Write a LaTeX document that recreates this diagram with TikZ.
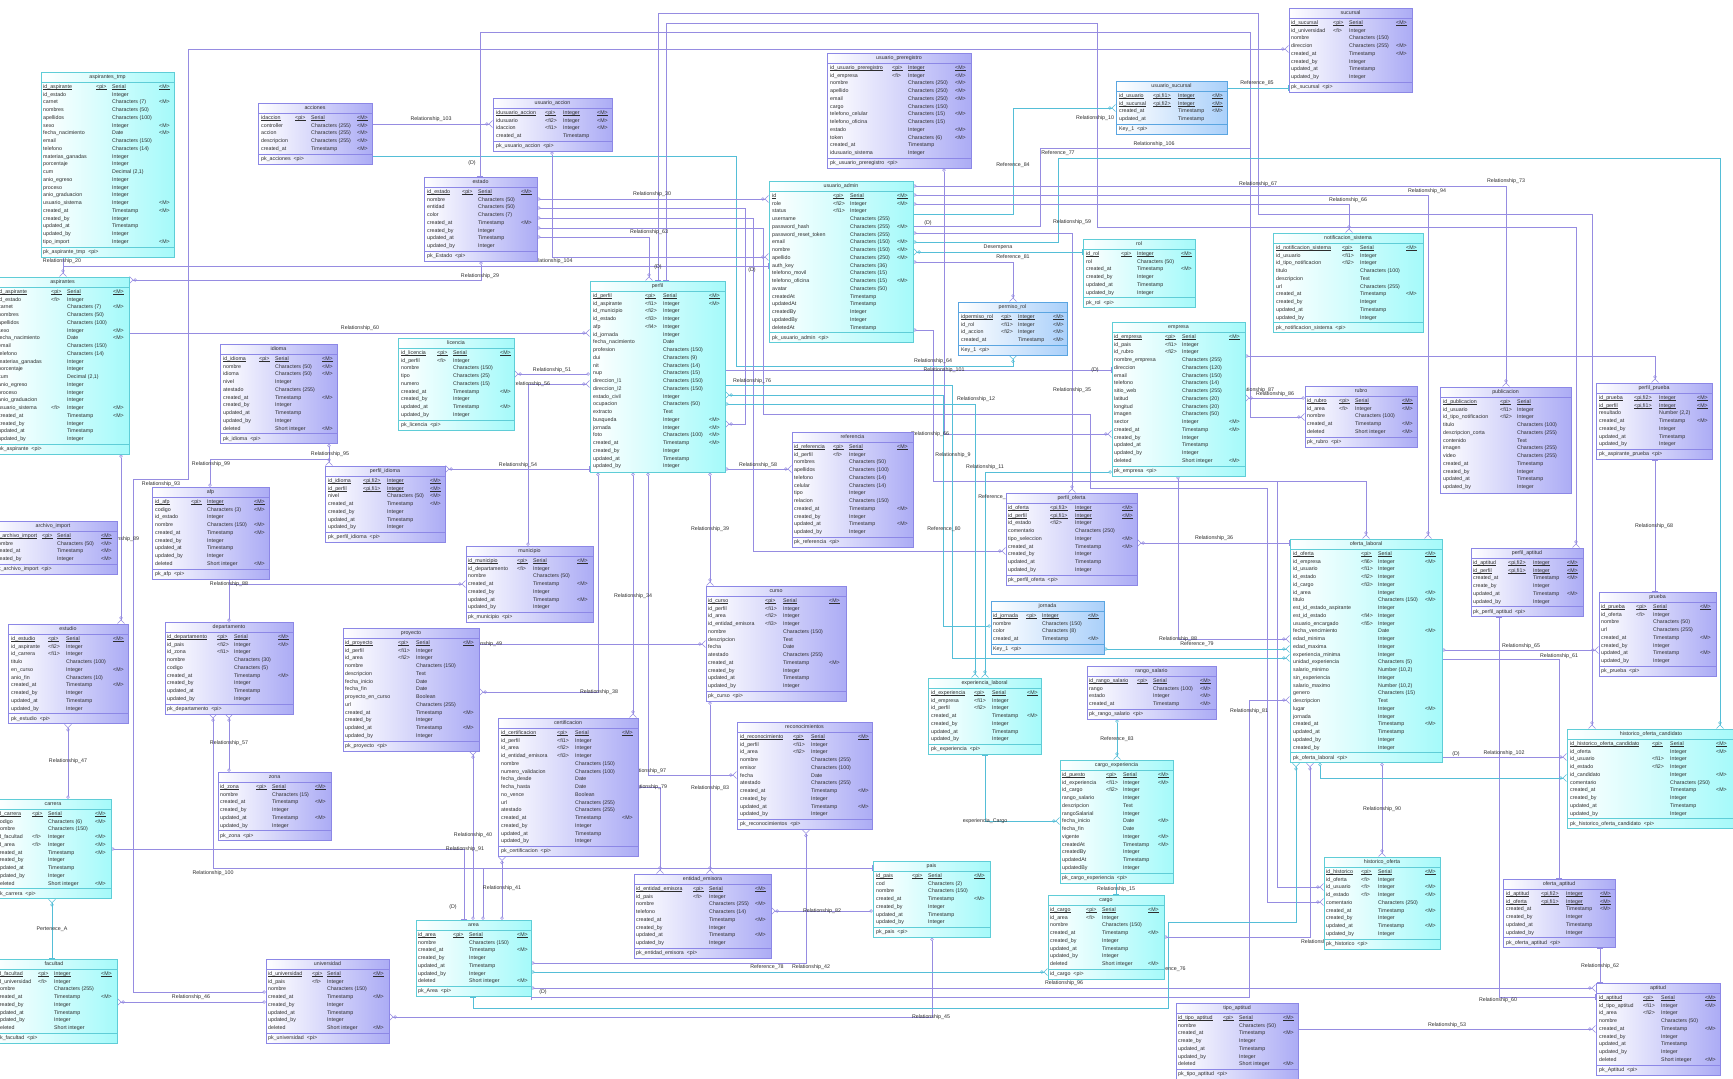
\documentclass[tikz,border=0pt]{standalone}
\usepackage{fontspec}
\setmainfont{Liberation Sans}
\usetikzlibrary{arrows.meta,fit,backgrounds}
\AtBeginDocument{\catcode`\_=12 }
\definecolor{cyB}{RGB}{95,205,215}
\definecolor{cyF}{RGB}{165,250,250}
\definecolor{puB}{RGB}{140,135,230}
\definecolor{puF}{RGB}{172,172,245}
\definecolor{blB}{RGB}{90,165,225}
\definecolor{blF}{RGB}{170,208,250}
\definecolor{lnP}{RGB}{150,140,225}
\definecolor{lnC}{RGB}{85,190,215}
\definecolor{txt}{RGB}{45,45,45}
\newcommand\tblfont{\fontsize{5.3}{6}\selectfont}
\newcommand\pkul[1]{\setbox0\hbox{#1}\rlap{\rule[-0.9pt]{\wd0}{0.35pt}}\box0}
\newcommand\cols[4]{\def\cN{#1}\def\cK{#2}\def\cT{#3}\def\cM{#4}}
\def\npk{1}
\newcommand\tbl[9]{%
  \pgfmathsetmacro\tLast{#3+15+(#7-1)*7.75}%
  \if\relax\detokenize{#9}\relax
    \pgfmathsetmacro\tBot{\tLast+6}%
  \else
    \pgfmathsetmacro\tBot{\tLast+15}%
  \fi
  \path[#5fill] (#2,#3) rectangle (#4,\tBot);
  \draw[#5line] (#2,#3) rectangle (#4,\tBot);
  \draw[#5line] (#2,#3+10) -- (#4,#3+10);
  \node[cell,anchor=center] at ({(#2+#4)/2},#3+5.2) {#6};
  \foreach \a/\b/\c/\d [count=\i] in {#8}{%
    \pgfmathsetmacro\yy{#3+15+(\i-1)*7.75}%
    \ifnum\i>\npk
      \node[cell] at (\cN,\yy) {\a};
      \node[cell] at (\cK,\yy) {\b};
      \node[cell] at (\cT,\yy) {\c};
      \node[cell] at (\cM,\yy) {\d};
    \else
      \node[cell] at (\cN,\yy) {\pkul{\a}};
      \node[cell] at (\cK,\yy) {\pkul{\b}};
      \node[cell] at (\cT,\yy) {\pkul{\c}};
      \node[cell] at (\cM,\yy) {\pkul{\d}};
    \fi
  }%
  \if\relax\detokenize{#9}\relax\else
    \draw[#5line] (#2,\tLast+5) -- (#4,\tLast+5);
    \node[cell] at (\cN,\tLast+10) {#9};
  \fi
  \node[fit={(#2,#3) (#4,\tBot)},inner sep=0pt,name=#1] {};
}
\tikzset{
  cell/.style={anchor=west,inner sep=0pt,font=\tblfont,text height=3.7pt,text depth=1.1pt,text=txt},
  lbl/.style={inner sep=0pt,font=\tblfont,text height=3.7pt,text depth=1.1pt,text=txt},
  cyfill/.style={left color=white,right color=cyF},
  pufill/.style={left color=white,right color=puF},
  blfill/.style={left color=white,right color=blF},
  cyline/.style={draw=cyB,line width=0.8pt},
  puline/.style={draw=puB,line width=0.8pt},
  blline/.style={draw=blB,line width=0.8pt},
  rp/.style={draw=lnP,line width=0.6pt},
  rc/.style={draw=lnC,line width=0.6pt},
  oc/.style={arrows={Circle[open,length=3.4pt,width=3.4pt]-{Circle[open,length=3.4pt,width=3.4pt] Straight Barb[reversed,length=3.5pt,width=7pt]}}},
  bc/.style={arrows={Bar[width=6pt]-{Circle[open,length=3.4pt,width=3.4pt] Straight Barb[reversed,length=3.5pt,width=7pt]}}},
  tc/.style={arrows={-{Circle[open,length=3.4pt,width=3.4pt] Straight Barb[reversed,length=3.5pt,width=7pt]}}},
  ob/.style={arrows={Circle[open,length=3.4pt,width=3.4pt]-{Bar[width=6pt]}}},
  bb/.style={arrows={Bar[width=6pt]-{Bar[width=6pt]}}},
  ot/.style={arrows={Circle[open,length=3.4pt,width=3.4pt]-}},
  bt/.style={arrows={Bar[width=6pt]-}},
}
\begin{document}
\begin{tikzpicture}[x=1pt,y=-1pt]
\useasboundingbox (0,0) rectangle (1733,1079);

% ---------------- tables ----------------
\cols{43}{96}{112}{159}
\tbl{aspirantes_tmp}{41}{72}{174}{cy}{aspirantes_tmp}{21}{id_aspirante/<pi>/Serial/<M>, id_estado//Integer/, carnet//Characters (7)/<M>, nombres//Characters (50)/, apellidos//Characters (100)/, sexo//Integer/<M>, fecha_nacimiento//Date/<M>, email//Characters (150)/, telefono//Characters (14)/, materias_ganadas//Integer/, porcentaje//Integer/, cum//{Decimal (2,1)}/, anio_egreso//Integer/, proceso//Integer/, anio_graduacion//Integer/, usuario_sistema//Integer/<M>, created_at//Timestamp/<M>, created_by//Integer/, updated_at//Timestamp/, updated_by//Integer/, tipo_import//Integer/<M>}{pk_aspirante_tmp \ <pi>}

\cols{-2}{51}{67}{113}
\tbl{aspirantes}{-4}{277}{129}{cy}{aspirantes}{20}{id_aspirante/<pi>/Serial/<M>, id_estado/<fi>/Integer/, carnet//Characters (7)/<M>, nombres//Characters (50)/, apellidos//Characters (100)/, sexo//Integer/<M>, fecha_nacimiento//Date/<M>, email//Characters (150)/, telefono//Characters (14)/, materias_ganadas//Integer/, porcentaje//Integer/, cum//{Decimal (2,1)}/, anio_egreso//Integer/, proceso//Integer/, anio_graduacion//Integer/, usuario_sistema/<fi>/Integer/<M>, created_at//Timestamp/<M>, created_by//Integer/, updated_at//Timestamp/, updated_by//Integer/}{pk_aspirante \ <pi>}

\cols{261}{295}{311}{357}
\tbl{acciones}{258}{103}{372}{pu}{acciones}{5}{idaccion/<pi>/Serial/<M>, controller//Characters (255)/<M>, accion//Characters (255)/<M>, descripcion//Characters (255)/<M>, created_at//Timestamp/<M>}{pk_acciones \ <pi>}

\cols{496}{545}{563}{597}
\tbl{usuario_accion}{493}{98}{612}{pu}{usuario_accion}{4}{idusuario_accion/<pi>/Integer/<M>, idusuario/<fi2>/Integer/<M>, idaccion/<fi1>/Integer/<M>, created_at//Timestamp/}{pk_usuario_accion \ <pi>}

\cols{427}{462}{478}{521}
\tbl{estado}{424}{177}{537}{pu}{estado}{8}{id_estado/<pi>/Serial/<M>, nombre//Characters (50)/, entidad//Characters (50)/, color//Characters (7)/, created_at//Timestamp/<M>, created_by//Integer/, updated_at//Timestamp/, updated_by//Integer/}{pk_Estado \ <pi>}

\cols{830}{892}{908}{955}
\tbl{usuario_preregistro}{827}{53}{971}{pu}{usuario_preregistro}{12}{id_usuario_preregistro/<pi>/Integer/<M>, id_empresa/<fi>/Integer/<M>, nombre//Characters (250)/<M>, apellido//Characters (250)/<M>, email//Characters (250)/<M>, cargo//Characters (150)/, telefono_celular//Characters (15)/<M>, telefono_oficina//Characters (15)/, estado//Integer/<M>, token//Characters (6)/<M>, created_at//Timestamp/, idusuario_sistema//Integer/}{pk_usuario_preregistro \ <pi>}

\def\npk{2}
\cols{1119}{1153}{1178}{1212}
\tbl{usuario_sucursal}{1116}{81}{1227}{bl}{usuario_sucursal}{4}{id_usuario/{<pi,fi1>}/Integer/<M>, id_sucursal/{<pi,fi2>}/Integer/<M>, created_at//Timestamp/<M>, updated_at//Timestamp/}{Key_1 \ <pi>}
\def\npk{1}

\cols{1291}{1333}{1349}{1396}
\tbl{sucursal}{1289}{8}{1412}{pu}{sucursal}{8}{id_sucursal/<pi>/Serial/<M>, id_universidad/<fi>/Integer/, nombre//Characters (150)/, direccion//Characters (255)/<M>, created_at//Timestamp/<M>, created_by//Integer/, updated_at//Timestamp/, updated_by//Integer/}{pk_sucursal \ <pi>}

\cols{772}{833}{850}{897}
\tbl{usuario_admin}{769}{181}{913}{cy}{usuario_admin}{18}{id/<pi>/Serial/<M>, role/<fi2>/Integer/<M>, status/<fi1>/Integer/, username//Characters (255)/, password_hash//Characters (255)/<M>, password_reset_token//Characters (255)/, email//Characters (150)/<M>, nombre//Characters (150)/<M>, apellido//Characters (250)/<M>, auth_key//Characters (36)/, telefono_movil//Characters (15)/, telefono_oficina//Characters (15)/<M>, avatar//Characters (50)/, createdAt//Timestamp/, updatedAt//Timestamp/, createdBy//Integer/, updatedBy//Integer/, deletedAt//Timestamp/}{pk_usuario_admin \ <pi>}

\cols{593}{645}{663}{709}
\tbl{perfil}{590}{281}{725}{cy}{perfil}{23}{id_perfil/<pi>/Serial/<M>, id_aspirante/<fi1>/Integer/<M>, id_municipio/<fi2>/Integer/, id_estado/<fi3>/Integer/, afp/<fi4>/Integer/, id_jornada//Integer/, fecha_nacimiento//Date/, profesion//Characters (150)/, dui//Characters (9)/, nit//Characters (14)/, nup//Characters (15)/, direccion_l1//Characters (150)/, direccion_l2//Characters (150)/, estado_civil//Integer/, ocupacion//Characters (50)/, extracto//Text/, busqueda//Integer/<M>, jornada//Integer/<M>, foto//Characters (100)/<M>, created_at//Timestamp/<M>, created_by//Integer/, updated_at//Timestamp/, updated_by//Integer/}{}

\cols{1086}{1121}{1137}{1181}
\tbl{rol}{1083}{239}{1195}{cy}{rol}{6}{id_rol/<pi>/Integer/<M>, rol//Characters (50)/, created_at//Timestamp/<M>, created_by//Integer/, updated_at//Timestamp/, updated_by//Integer/}{pk_rol \ <pi>}

\cols{961}{1001}{1018}{1053}
\tbl{permiso_rol}{958}{302}{1067}{bl}{permiso_rol}{4}{idpermiso_rol/<pi>/Integer/<M>, id_rol/<fi1>/Integer/<M>, id_accion/<fi2>/Integer/<M>, created_at//Timestamp/<M>}{Key_1 \ <pi>}

\cols{1276}{1342}{1360}{1406}
\tbl{notificacion_sistema}{1273}{233}{1423}{cy}{notificacion_sistema}{10}{id_notificacion_sistema/<pi>/Serial/<M>, id_usuario/<fi1>/Integer/, id_tipo_notificacion/<fi2>/Integer/, titulo//Characters (100)/, descripcion//Text/, url//Characters (255)/, created_at//Timestamp/<M>, created_by//Integer/, updated_at//Timestamp/, updated_by//Integer/}{pk_notificacion_sistema \ <pi>}

\cols{1114}{1165}{1182}{1229}
\tbl{empresa}{1112}{322}{1245}{cy}{empresa}{17}{id_empresa/<pi>/Serial/<M>, id_pais/<fi1>/Integer/, id_rubro/<fi2>/Integer/, nombre_empresa//Characters (255)/, direccion//Characters (120)/, email//Characters (150)/, telefono//Characters (14)/, sitio_web//Characters (255)/, latitud//Characters (20)/, longitud//Characters (20)/, imagen//Characters (50)/, sector//Integer/<M>, created_at//Timestamp/<M>, created_by//Integer/, updated_at//Timestamp/, updated_by//Integer/, deleted//Short integer/<M>}{pk_empresa \ <pi>}

\cols{223}{259}{275}{322}
\tbl{idioma}{220}{344}{337}{pu}{idioma}{10}{id_idioma/<pi>/Serial/<M>, nombre//Characters (50)/<M>, idioma//Characters (50)/<M>, nivel//Integer/, atestado//Characters (255)/, created_at//Timestamp/<M>, created_by//Integer/, updated_at//Timestamp/, updated_by//Integer/, deleted//Short integer/<M>}{pk_idioma \ <pi>}

\cols{401}{437}{453}{500}
\tbl{licencia}{398}{338}{514}{cy}{licencia}{9}{id_licencia/<pi>/Serial/<M>, id_perfil/<fi>/Integer/, nombre//Characters (150)/, tipo//Characters (25)/, numero//Characters (15)/, created_at//Timestamp/<M>, created_by//Integer/, updated_at//Timestamp/<M>, updated_by//Integer/}{pk_licencia \ <pi>}

\cols{155}{191}{207}{254}
\tbl{afp}{152}{487}{269}{pu}{afp}{9}{id_afp/<pi>/Integer/<M>, codigo//Characters (3)/<M>, id_estado//Integer/, nombre//Characters (150)/<M>, created_at//Timestamp/<M>, created_by//Integer/, updated_at//Timestamp/, updated_by//Integer/, deleted//Short integer/<M>}{pk_afp \ <pi>}

\def\npk{2}
\cols{328}{363}{387}{430}
\tbl{perfil_idioma}{325}{466}{445}{pu}{perfil_idioma}{7}{id_idioma/{<pi,fi2>}/Integer/<M>, id_perfil/{<pi,fi1>}/Integer/<M>, nivel//Characters (50)/<M>, created_at//Timestamp/<M>, created_by//Integer/, updated_at//Timestamp/, updated_by//Integer/}{pk_perfil_idioma \ <pi>}
\def\npk{1}

\cols{-5}{42}{57}{101}
\tbl{archivo_import}{-11}{521}{117}{pu}{archivo_import}{4}{id_archivo_import/<pi>/Serial/<M>, nombre//Characters (50)/<M>, created_at//Timestamp/<M>, created_by//Integer/<M>}{pk_archivo_import \ <pi>}

\cols{11}{48}{66}{113}
\tbl{estudio}{8}{624}{128}{pu}{estudio}{10}{id_estudio/<pi>/Serial/<M>, id_aspirante/<fi2>/Integer/, id_carrera/<fi1>/Integer/, titulo//Characters (100)/, en_curso//Integer/<M>, anio_fin//Characters (10)/, created_at//Timestamp/<M>, created_by//Integer/, updated_at//Timestamp/, updated_by//Integer/}{pk_estudio \ <pi>}

\cols{167}{217}{234}{278}
\tbl{departamento}{165}{622}{293}{pu}{departamento}{9}{id_departamento/<pi>/Serial/<M>, id_pais/<fi2>/Integer/<M>, id_zona/<fi1>/Integer/, nombre//Characters (30)/, codigo//Characters (5)/, created_at//Timestamp/<M>, created_by//Integer/, updated_at//Timestamp/, updated_by//Integer/}{pk_departamento \ <pi>}

\cols{468}{517}{533}{577}
\tbl{municipio}{466}{546}{593}{pu}{municipio}{7}{id_municipio/<pi>/Serial/<M>, id_departamento/<fi>/Integer/, nombre//Characters (50)/, created_at//Timestamp/<M>, created_by//Integer/, updated_at//Timestamp/<M>, updated_by//Integer/}{pk_municipio \ <pi>}

\cols{345}{398}{416}{463}
\tbl{proyecto}{343}{628}{479}{pu}{proyecto}{13}{id_proyecto/<pi>/Serial/<M>, id_perfil/<fi1>/Integer/, id_area/<fi2>/Integer/, nombre//Characters (150)/, descripcion//Text/, fecha_inicio//Date/, fecha_fin//Date/, proyecto_en_curso//Boolean/, url//Characters (255)/, created_at//Timestamp/<M>, created_by//Integer/, updated_at//Timestamp/<M>, updated_by//Integer/}{pk_proyecto \ <pi>}

\cols{708}{765}{783}{829}
\tbl{curso}{706}{586}{846}{pu}{curso}{12}{id_curso/<pi>/Serial/<M>, id_perfil/<fi1>/Integer/, id_area/<fi2>/Integer/, id_entidad_emisora/<fi3>/Integer/, nombre//Characters (150)/, descripcion//Text/, fecha//Date/, atestado//Characters (255)/, created_at//Timestamp/<M>, created_by//Integer/, updated_at//Timestamp/, updated_by//Integer/}{pk_curso \ <pi>}

\cols{794}{833}{849}{897}
\tbl{referencia}{792}{432}{913}{pu}{referencia}{12}{id_referencia/<pi>/Serial/<M>, id_perfil/<fi>/Integer/, nombres//Characters (50)/, apellidos//Characters (100)/, telefono//Characters (14)/, celular//Characters (14)/, tipo//Integer/, relacion//Characters (150)/, created_at//Timestamp/<M>, created_by//Integer/, updated_at//Timestamp/<M>, updated_by//Integer/}{pk_referencia \ <pi>}

\def\npk{2}
\cols{1008}{1050}{1075}{1122}
\tbl{perfil_oferta}{1006}{493}{1137}{pu}{perfil_oferta}{9}{id_oferta/{<pi,fi3>}/Integer/<M>, id_perfil/{<pi,fi1>}/Integer/<M>, id_estado/<fi2>/Integer/, comentario//Characters (250)/, tipo_seleccion//Integer/<M>, created_at//Timestamp/<M>, created_by//Integer/, updated_at//Timestamp/, updated_by//Integer/}{pk_perfil_oferta \ <pi>}
\def\npk{1}

\cols{993}{1026}{1042}{1088}
\tbl{jornada}{991}{601}{1104}{bl}{jornada}{4}{id_jornada/<pi>/Integer/<M>, nombre//Characters (150)/, color//Characters (8)/, created_at//Timestamp/<M>}{Key_1 \ <pi>}

\cols{1089}{1137}{1153}{1200}
\tbl{rango_salario}{1087}{666}{1216}{pu}{rango_salario}{4}{id_rango_salario/<pi>/Serial/<M>, rango//Characters (100)/<M>, estado//Integer/<M>, created_at//Timestamp/<M>}{pk_rango_salario \ <pi>}

\cols{931}{974}{992}{1027}
\tbl{experiencia_laboral}{928}{678}{1041}{cy}{experiencia_laboral}{7}{id_experiencia/<pi>/Serial/<M>, id_empresa/<fi1>/Integer/, id_perfil/<fi2>/Integer/, created_at//Timestamp/<M>, created_by//Integer/, updated_at//Timestamp/, updated_by//Integer/}{pk_experiencia \ <pi>}

\cols{1062}{1106}{1123}{1158}
\tbl{cargo_experiencia}{1060}{760}{1173}{cy}{cargo_experiencia}{13}{id_puesto/<pi>/Serial/<M>, id_experiencia/<fi1>/Integer/<M>, id_cargo/<fi2>/Integer/, rango_salario//Integer/, descripcion//Text/, rangoSalarial//Integer/, fecha_inicio//Date/<M>, fecha_fin//Date/, vigente//Integer/<M>, createdAt//Timestamp/<M>, createdBy//Integer/, updatedAt//Timestamp/, updatedBy//Integer/}{pk_cargo_experiencia \ <pi>}

\cols{1050}{1086}{1102}{1148}
\tbl{cargo}{1048}{895}{1164}{cy}{cargo}{8}{id_cargo/<pi>/Serial/<M>, id_area/<fi>/Integer/, nombre//Characters (150)/, created_at//Timestamp/<M>, created_by//Integer/, updated_at//Timestamp/, updated_by//Integer/, deleted//Short integer/<M>}{id_cargo \ <pi>}

\cols{876}{912}{928}{974}
\tbl{pais}{873}{861}{990}{cy}{pais}{7}{id_pais/<pi>/Serial/<M>, cod//Characters (2)/, nombre//Characters (150)/, created_at//Timestamp/<M>, created_by//Integer/, updated_at//Timestamp/, updated_by//Integer/}{pk_pais \ <pi>}

\cols{1178}{1223}{1239}{1283}
\tbl{tipo_aptitud}{1176}{1003}{1298}{pu}{tipo_aptitud}{7}{id_tipo_aptitud/<pi>/Serial/<M>, nombre//Characters (50)/, created_at//Timestamp/<M>, create_by//Integer/, updated_at//Timestamp/, updated_by//Integer/, deleted//Short integer/<M>}{pk_tipo_aptitud \ <pi>}

\cols{636}{693}{709}{755}
\tbl{entidad_emisora}{634}{874}{771}{pu}{entidad_emisora}{8}{id_entidad_emisora/<pi>/Serial/<M>, id_pais/<fi>/Integer/, nombre//Characters (255)/<M>, telefono//Characters (14)/, created_at//Timestamp/<M>, created_by//Integer/, updated_at//Timestamp/<M>, updated_by//Integer/}{pk_entidad_emisora \ <pi>}

\cols{740}{793}{811}{858}
\tbl{reconocimientos}{737}{722}{872}{pu}{reconocimientos}{11}{id_reconocimiento/<pi>/Serial/<M>, id_perfil/<fi1>/Integer/, id_area/<fi2>/Integer/, nombre//Characters (255)/, emisor//Characters (100)/, fecha//Date/, atestado//Characters (255)/, created_at//Timestamp/<M>, created_by//Integer/, updated_at//Timestamp/<M>, updated_by//Integer/}{pk_reconocimientos \ <pi>}

\cols{501}{557}{575}{622}
\tbl{certificacion}{498}{718}{638}{pu}{certificacion}{15}{id_certificacion/<pi>/Serial/<M>, id_perfil/<fi1>/Integer/, id_area/<fi2>/Integer/, id_entidad_emisora/<fi3>/Integer/, nombre//Characters (150)/, numero_validacion//Characters (100)/, fecha_desde//Date/, fecha_hasta//Date/, no_vence//Boolean/, url//Characters (255)/, atestado//Characters (255)/, created_at//Timestamp/<M>, created_by//Integer/, updated_at//Timestamp/, updated_by//Integer/}{pk_certificacion \ <pi>}

\cols{418}{453}{469}{517}
\tbl{area}{416}{920}{531}{cy}{area}{7}{id_area/<pi>/Serial/<M>, nombre//Characters (150)/, created_at//Timestamp/<M>, created_by//Integer/, updated_at//Timestamp/, updated_by//Integer/, deleted//Short integer/<M>}{pk_Area \ <pi>}

\cols{220}{256}{272}{315}
\tbl{zona}{218}{772}{331}{pu}{zona}{6}{id_zona/<pi>/Serial/<M>, nombre//Characters (15)/, created_at//Timestamp/<M>, created_by//Integer/, updated_at//Timestamp/<M>, updated_by//Integer/}{pk_zona \ <pi>}

\cols{-3}{32}{48}{95}
\tbl{carrera}{-5}{799}{111}{cy}{carrera}{10}{id_carrera/<pi>/Serial/<M>, codigo//Characters (6)/<M>, nombre//Characters (150)/, id_facultad/<fi>/Integer/<M>, id_area/<fi>/Integer/<M>, created_at//Timestamp/<M>, created_by//Integer/, updated_at//Timestamp/, updated_by//Integer/, deleted//Short integer/<M>}{pk_carrera \ <pi>}

\cols{-3}{38}{54}{101}
\tbl{facultad}{-9}{959}{117}{cy}{facultad}{8}{id_facultad/<pi>/Integer/<M>, id_universidad/<fi>/Integer/, nombre//Characters (255)/, created_at//Timestamp/<M>, created_by//Integer/, updated_at//Timestamp/, updated_by//Integer/, deleted//Short integer/}{pk_facultad \ <pi>}

\cols{268}{312}{327}{373}
\tbl{universidad}{266}{959}{389}{pu}{universidad}{8}{id_universidad/<pi>/Serial/<M>, id_pais/<fi>/Integer/, nombre//Characters (150)/, created_at//Timestamp/<M>, created_by//Integer/, updated_at//Timestamp/, updated_by//Integer/, deleted//Short integer/<M>}{pk_universidad \ <pi>}

\cols{1307}{1339}{1355}{1402}
\tbl{rubro}{1305}{386}{1417}{pu}{rubro}{5}{id_rubro/<pi>/Serial/<M>, id_area/<fi>/Integer/<M>, nombre//Characters (100)/, created_at//Timestamp/<M>, deleted//Short integer/<M>}{pk_rubro \ <pi>}

\cols{1443}{1500}{1517}{1600}
\tbl{publicacion}{1440}{387}{1571}{pu}{publicacion}{12}{id_publicacion/<pi>/Serial/, id_usuario/<fi1>/Integer/, id_tipo_notificacion/<fi2>/Integer/, titulo//Characters (100)/, descripcion_corta//Characters (255)/, contenido//Text/, imagen//Characters (255)/, video//Characters (255)/, created_at//Timestamp/, created_by//Integer/, updated_at//Timestamp/, updated_by//Integer/}{}

\def\npk{2}
\cols{1599}{1634}{1659}{1697}
\tbl{perfil_prueba}{1596}{383}{1712}{pu}{perfil_prueba}{7}{id_prueba/{<pi,fi2>}/Integer/<M>, id_perfil/{<pi,fi1>}/Integer/<M>, resultado//{Number (2,2)}/, created_at//Timestamp/<M>, created_by//Integer/, updated_at//Timestamp/, updated_by//Integer/}{pk_aspirante_prueba \ <pi>}
\def\npk{1}

\cols{1293}{1361}{1378}{1425}
\tbl{oferta_laboral}{1290}{539}{1442}{cy}{oferta_laboral}{26}{id_oferta/<pi>/Serial/<M>, id_empresa/<fi6>/Integer/<M>, id_usuario/<fi1>/Integer/, id_estado/<fi2>/Integer/, id_cargo/<fi3>/Integer/, id_area//Integer/<M>, titulo//Characters (150)/<M>, est_id_estado_aspirante//Integer/, est_id_estado/<fi4>/Integer/, usuario_encargado/<fi5>/Integer/, fecha_vencimiento//Date/<M>, edad_minima//Integer/, edad_maxima//Integer/, experiencia_minima//Integer/, unidad_experiencia//Characters (5)/, salario_minimo//{Number (10,2)}/, sin_experiencia//Integer/, salario_maximo//{Number (10,2)}/, genero//Characters (15)/, descripcion//Text/, lugar//Integer/<M>, jornada//Integer/, created_at//Timestamp/<M>, updated_at//Timestamp/, updated_by//Integer/, created_by//Integer/}{pk_oferta_laboral \ <pi>}

\def\npk{2}
\cols{1473}{1508}{1533}{1567}
\tbl{perfil_aptitud}{1471}{548}{1583}{pu}{perfil_aptitud}{6}{id_aptitud/{<pi,fi2>}/Integer/<M>, id_perfil/{<pi,fi1>}/Integer/<M>, created_at//Timestamp/<M>, create_by//Integer/, updated_at//Timestamp/<M>, updated_by//Integer/}{pk_perfil_aptitud \ <pi>}
\def\npk{1}

\cols{1601}{1636}{1653}{1700}
\tbl{prueba}{1599}{592}{1716}{pu}{prueba}{8}{id_prueba/<pi>/Serial/<M>, id_oferta/<fi>/Integer/, nombre//Characters (50)/, url//Characters (255)/, created_at//Timestamp/<M>, created_by//Integer/, updated_at//Timestamp/<M>, updated_by//Integer/}{pk_prueba \ <pi>}

\cols{1570}{1652}{1670}{1716}
\tbl{historico_oferta_candidato}{1567}{729}{1735}{cy}{historico_oferta_candidato}{10}{id_historico_oferta_candidato/<pi>/Serial/<M>, id_oferta//Integer/<M>, id_usuario/<fi1>/Integer/, id_estado/<fi2>/Integer/, id_candidato//Integer/<M>, comentario//Characters (250)/, created_at//Timestamp/<M>, created_by//Integer/, updated_at//Timestamp/, updated_by//Integer/}{pk_historico_oferta_candidato \ <pi>}

\cols{1326}{1361}{1378}{1425}
\tbl{historico_oferta}{1324}{857}{1440}{cy}{historico_oferta}{9}{id_historico/<pi>/Serial/<M>, id_oferta/<fi>/Integer/, id_usuario/<fi>/Integer/<M>, id_estado/<fi>/Integer/<M>, comentario//Characters (250)/, created_at//Timestamp/<M>, created_by//Integer/, updated_at//Timestamp/<M>, updated_by//Integer/}{pk_historico \ <pi>}

\def\npk{2}
\cols{1506}{1541}{1566}{1600}
\tbl{oferta_aptitud}{1503}{879}{1615}{pu}{oferta_aptitud}{6}{id_aptitud/{<pi,fi2>}/Integer/<M>, id_oferta/{<pi,fi1>}/Integer/<M>, created_at//Timestamp/<M>, created_by//Integer/, updated_at//Timestamp/, updated_by//Integer/}{pk_oferta_aptitud \ <pi>}
\def\npk{1}

\cols{1599}{1643}{1661}{1705}
\tbl{aptitud}{1596}{983}{1720}{pu}{aptitud}{9}{id_aptitud/<pi>/Serial/<M>, id_tipo_aptitud/<fi1>/Integer/<M>, id_area/<fi2>/Integer/, nombre//Characters (50)/, created_at//Timestamp/<M>, created_by//Integer/, updated_at//Timestamp/, updated_by//Integer/, deleted//Short integer/<M>}{pk_Aptitud \ <pi>}

% ---------------- connectors ----------------
\begin{pgfonlayer}{background}
\fill[white] (0,0) rectangle (1733,1079);
\coordinate (j20) at (63,266);
\coordinate (j9) at (1277,481);
\coordinate (j99) at (329,459);
\coordinate (j106) at (1250,148);
\coordinate (j100) at (483,868);

\draw[rp,bc] (acciones.east|-0,124) -- (usuario_accion.west|-0,124);
\draw[rc,bc] (acciones.east|-0,156) -- (736,156) -- (736,366) -- (1013,366) -- (1013,0|-permiso_rol.south);
\draw[rp,tc] (63,0|-aspirantes_tmp.south) -- (63,0|-aspirantes.north);
\draw[rp,-{Bar[width=6pt]}] (j20) -- (usuario_admin.west|-0,266);
\draw[rp,oc] (481,0|-estado.south) -- (481,280) -- (aspirantes.east|-0,280);
\draw[rp,bc] (aspirantes.east|-0,333) -- (perfil.west|-0,333);
\draw[rp,oc] (universidad.west|-0,992) -- (133,992) -- (133,479) -- (188,479) -- (188,49) -- (sucursal.west|-0,49);
\draw[rp,bc] (480,0|-estado.north) -- (480,32) -- (1250,32) -- (1250,417) -- (rubro.west|-0,417);
\draw[rp,bc] (658,0|-perfil.north) -- (658,13) -- (1258,13) -- (1258,214) -- (1592,214) -- (1592,0|-historico_oferta_candidato.north);
\draw[rp,bc] (666,0|-perfil.north) -- (666,23) -- (1097,23) -- (1097,227) -- (1576,227) -- (1576,0|-perfil_aptitud.north);
\draw[rp,oc] (552,0|-usuario_accion.south) -- (552,257) -- (usuario_admin.west|-0,257);
\draw[rp,oc] (estado.east|-0,199) -- (usuario_admin.west|-0,199);
\draw[rp,oc] (estado.east|-0,237) -- (649,237) -- (649,0|-perfil.north);
\draw[rp,oc] (estado.east|-0,218) -- (753,218) -- (753,551) -- (perfil_oferta.west|-0,551);
\draw[rp,oc] (estado.east|-0,208) -- (745,208) -- (745,424) -- (perfil.east|-0,424);
\draw[rp,oc] (estado.east|-0,228) -- (763,228) -- (763,414) -- (1090,414) -- (1090,488) -- (1267,488) -- (1267,902) -- (historico_oferta.west|-0,902);
\draw[rc,bc] (usuario_admin.east|-0,214) -- (1013,214) -- (1013,108) -- (usuario_sucursal.west|-0,108);
\draw[rc,oc] (usuario_admin.east|-0,242) -- (1058,242) -- (1058,158) -- (1720,158) -- (1720,0|-historico_oferta_candidato.north);
\draw[rp,bt] (usuario_admin.east|-0,226) -- (1040,226) -- (1040,148) -- (j106);
\draw[rp,oc] (usuario_admin.east|-0,233) -- (1072,233) -- (1072,0|-perfil_oferta.north);
\draw[rc,bc] (rol.west|-0,252) -- (usuario_admin.east|-0,252);
\draw[rp,oc] (usuario_admin.east|-0,262) -- (1013,262) -- (1013,0|-permiso_rol.north);
\draw[rp,oc] (usuario_admin.east|-0,186) -- (1506,186) -- (1506,0|-publicacion.north);
\draw[rp,oc] (usuario_admin.east|-0,195) -- (1428,195) -- (1428,0|-oferta_laboral.north);
\draw[rp,oc] (usuario_admin.east|-0,204) -- (1349,204) -- (1349,0|-notificacion_sistema.north);
\draw[rc,bb] (usuario_sucursal.east|-0,88) -- (sucursal.west|-0,88);
\draw[rp,oc] (944,0|-usuario_preregistro.south) -- (944,434) -- (empresa.west|-0,434);
\draw[rp,oc] (usuario_admin.east|-0,330) -- (933,330) -- (933,481) -- (1366,481) -- (1366,0|-oferta_laboral.north);
\draw[rp,tc] (j9) -- (1277,887) -- (historico_oferta.west|-0,887);
\draw[rp,bb] (perfil.east|-0,370) -- (empresa.west|-0,370);
\draw[rp,oc] (empresa.east|-0,356) -- (1655,356) -- (1655,0|-perfil_prueba.north);
\draw[rp,oc] (rubro.west|-0,398) -- (empresa.east|-0,398);
\draw[rp,oc] (1178,0|-empresa.south) -- (1178,639) -- (oferta_laboral.west|-0,639);
\draw[rp,bc] (oferta_laboral.west|-0,543) -- (perfil_oferta.east|-0,543);
\draw[rc,bc] (perfil.east|-0,385) -- (952,385) -- (952,658) -- (oferta_laboral.west|-0,658);
\draw[rc,oc] (jornada.west|-0,626) -- (943,626) -- (943,395) -- (perfil.east|-0,395);
\draw[rc,oc] (jornada.east|-0,649) -- (oferta_laboral.west|-0,649);
\draw[rc,oc] (perfil.east|-0,404) -- (975,404) -- (975,0|-experiencia_laboral.north);
\draw[rc,oc] (empresa.west|-0,472) -- (985,472) -- (985,0|-experiencia_laboral.north);
\draw[rc,bb] (1116,0|-cargo.north) -- (1116,0|-cargo_experiencia.south);
\draw[rc,oc] (1117,0|-rango_salario.south) -- (1117,0|-cargo_experiencia.north);
\draw[rc,bc] (985,0|-experiencia_laboral.south) -- (985,821) -- (cargo_experiencia.west|-0,821);
\draw[rp,oc] (pais.west|-0,911) -- (entidad_emisora.east|-0,911);
\draw[rp,oc] (932,0|-pais.south) -- (932,1017) -- (universidad.east|-0,1017);
\draw[rp,bc] (pais.west|-0,868) -- (213,868) -- (213,0|-departamento.south);
\draw[rp,oc] (229,0|-zona.north) -- (229,0|-departamento.south);
\draw[rp,oc] (229,0|-departamento.north) -- (229,584) -- (municipio.west|-0,584);
\draw[rp] (229,0|-afp.south) -- (229,584);
\draw[rp,oc] (329,0|-idioma.south) -- (329,0|-perfil_idioma.north);
\draw[rp,ot] (210,0|-afp.north) -- (210,459) -- (j99);
\draw[rp,oc] (121,0|-aspirantes.south) -- (121,0|-estudio.north);
\draw[rp,oc] (68,0|-carrera.north) -- (68,0|-estudio.south);
\draw[rc,bc] (52,0|-facultad.north) -- (52,0|-carrera.south);
\draw[rp,oc] (universidad.west|-0,1002) -- (facultad.east|-0,1002);
\draw[rp,ob] (carrera.east|-0,849) -- (464,849) -- (464,0|-area.north);
\draw[rp,oc] (473,0|-area.north) -- (473,0|-proyecto.south);
\draw[rp,oc] (502,0|-area.north) -- (502,0|-certificacion.south);
\draw[rp,ot] (483,0|-area.north) -- (j100);
\draw[rp,oc] (perfil.west|-0,374) -- (licencia.east|-0,374);
\draw[rp,oc] (528,0|-municipio.north) -- (528,384) -- (perfil.west|-0,384);
\draw[rp,bc] (perfil.west|-0,469) -- (perfil_idioma.east|-0,469);
\draw[rp,oc] (perfil.east|-0,469) -- (referencia.west|-0,469);
\draw[rp,oc] (710,0|-perfil.south) -- (710,0|-curso.north);
\draw[rp,oc] (633,0|-perfil.south) -- (633,0|-certificacion.north);
\draw[rp,oc] (598,0|-perfil.south) -- (598,692) -- (proyecto.east|-0,692);
\draw[rp,tc] (proyecto.east|-0,644) -- (curso.west|-0,644);
\draw[rp,oc] (648,0|-perfil.south) -- (648,775) -- (reconocimientos.west|-0,775);
\draw[rp,oc] (certificacion.east|-0,787) -- (660,787) -- (660,0|-entidad_emisora.north);
\draw[rp,oc] (710,0|-curso.south) -- (710,0|-entidad_emisora.north);
\draw[rp,oc] (area.east|-0,963) -- (806,963) -- (806,0|-reconocimientos.south);
\draw[rc,oc] (area.east|-0,972) -- (cargo.west|-0,972);
\draw[rp,oc] (area.east|-0,988) -- (aptitud.west|-0,988);
\draw[rp,bc] (area.east|-0,997) -- (1249,997) -- (1249,700) -- (oferta_laboral.west|-0,700);
\draw[rc,bc] (473,0|-area.south) -- (473,1008) -- (1168,1008) -- (1168,922) -- (1296,922) -- (1296,0|-oferta_laboral.south);
\draw[rp,oc] (cargo.east|-0,937) -- (1310,937) -- (1310,0|-oferta_laboral.south);
\draw[rp,oc] (oferta_laboral.east|-0,650) -- (prueba.west|-0,650);
\draw[rp,bb] (oferta_laboral.east|-0,659) -- (1559,659) -- (1559,0|-oferta_aptitud.north);
\draw[rp,bb] (1499,0|-perfil_aptitud.south) -- (1499,997) -- (aptitud.west|-0,997);
\draw[rp,bb] (1600,0|-oferta_aptitud.south) -- (1600,0|-aptitud.north);
\draw[rp,bc] (tipo_aptitud.east|-0,1029) -- (aptitud.west|-0,1029);
\draw[rp,bc] (oferta_laboral.east|-0,757) -- (historico_oferta_candidato.west|-0,757);
\draw[rp,oc] (1382,0|-oferta_laboral.south) -- (1382,0|-historico_oferta.north);
\draw[rc,oc] (1320,0|-oferta_laboral.south) -- (1320,778) -- (historico_oferta_candidato.west|-0,778);
\draw[rp,bb] (1655,0|-perfil_prueba.south) -- (1655,0|-prueba.north);

% labels
\node[lbl] at (431,119) {Relationship_103};
\node[lbl] at (62,261) {Relationship_20};
\node[lbl] at (480,276) {Relationship_29};
\node[lbl] at (360,328) {Relationship_60};
\node[lbl] at (552,261) {Relationship_104};
\node[lbl] at (652,194) {Relationship_30};
\node[lbl] at (649,232) {Relationship_63};
\node[lbl] at (1013,165) {Reference_84};
\node[lbl] at (1058,153) {Reference_77};
\node[lbl] at (1154,144) {Relationship_106};
\node[lbl] at (1095,118) {Relationship_10};
\node[lbl] at (1257,83) {Reference_85};
\node[lbl] at (1258,184) {Relationship_67};
\node[lbl] at (1072,222) {Relationship_59};
\node[lbl] at (998,247) {Desempena};
\node[lbl] at (1013,257) {Reference_81};
\node[lbl] at (1506,181) {Relationship_73};
\node[lbl] at (1427,191) {Relationship_94};
\node[lbl] at (1348,200) {Relationship_66};
\node[lbl] at (552,370) {Relationship_51};
\node[lbl] at (531,384) {Relationship_56};
\node[lbl] at (518,465) {Relationship_54};
\node[lbl] at (758,465) {Relationship_58};
\node[lbl] at (752,381) {Relationship_76};
\node[lbl] at (710,529) {Relationship_39};
\node[lbl] at (633,596) {Relationship_34};
\node[lbl] at (483,644) {Relationship_49};
\node[lbl] at (599,692) {Relationship_38};
\node[lbl] at (211,464) {Relationship_99};
\node[lbl] at (161,484) {Relationship_93};
\node[lbl] at (330,454) {Relationship_95};
\node[lbl] at (120,539) {Relationship_89};
\node[lbl] at (229,584) {Relationship_88};
\node[lbl] at (68,761) {Relationship_47};
\node[lbl] at (229,743) {Relationship_57};
\node[lbl] at (213,873) {Relationship_100};
\node[lbl] at (52,929) {Pertenece_A};
\node[lbl] at (191,997) {Relationship_46};
\node[lbl] at (473,835) {Relationship_40};
\node[lbl] at (465,849) {Relationship_91};
\node[lbl] at (502,888) {Relationship_41};
\node[lbl] at (453,907) {(D)};
\node[lbl] at (543,992) {(D)};
\node[lbl] at (472,163) {(D)};
\node[lbl] at (752,270) {(D)};
\node[lbl] at (658,267) {(D)};
\node[lbl] at (928,223) {(D)};
\node[lbl] at (1095,370) {(D)};
\node[lbl] at (1456,754) {(D)};
\node[lbl] at (647,771) {Relationship_97};
\node[lbl] at (648,787) {Relationship_79};
\node[lbl] at (710,788) {Relationship_83};
\node[lbl] at (822,911) {Relationship_82};
\node[lbl] at (767,967) {Reference_78};
\node[lbl] at (811,967) {Relationship_42};
\node[lbl] at (931,1017) {Relationship_45};
\node[lbl] at (1117,739) {Reference_83};
\node[lbl] at (985,821) {experiencia_Cargo};
\node[lbl] at (1116,889) {Relationship_15};
\node[lbl] at (1064,983) {Relationship_96};
\node[lbl] at (1169,969) {Reference_76};
\node[lbl] at (976,399) {Relationship_12};
\node[lbl] at (933,361) {Relationship_64};
\node[lbl] at (944,370) {Relationship_101};
\node[lbl] at (1072,390) {Relationship_35};
\node[lbl] at (930,434) {Relationship_66};
\node[lbl] at (953,455) {Relationship_9};
\node[lbl] at (985,467) {Relationship_11};
\node[lbl] at (995,497) {Reference_78};
\node[lbl] at (944,529) {Reference_80};
\node[lbl] at (1214,538) {Relationship_36};
\node[lbl] at (1178,639) {Relationship_88};
\node[lbl] at (1197,644) {Reference_79};
\node[lbl] at (1249,711) {Relationship_81};
\node[lbl] at (1255,390) {Relationship_87};
\node[lbl] at (1275,394) {Relationship_86};
\node[lbl] at (1521,646) {Relationship_65};
\node[lbl] at (1559,656) {Relationship_61};
\node[lbl] at (1654,526) {Relationship_68};
\node[lbl] at (1382,809) {Relationship_90};
\node[lbl] at (1504,753) {Relationship_102};
\node[lbl] at (1600,966) {Relationship_62};
\node[lbl] at (1498,1000) {Relationship_60};
\node[lbl] at (1447,1025) {Relationship_53};
\node[lbl] at (1320,942) {Relationship_92};
\end{pgfonlayer}
\end{tikzpicture}
\end{document}
